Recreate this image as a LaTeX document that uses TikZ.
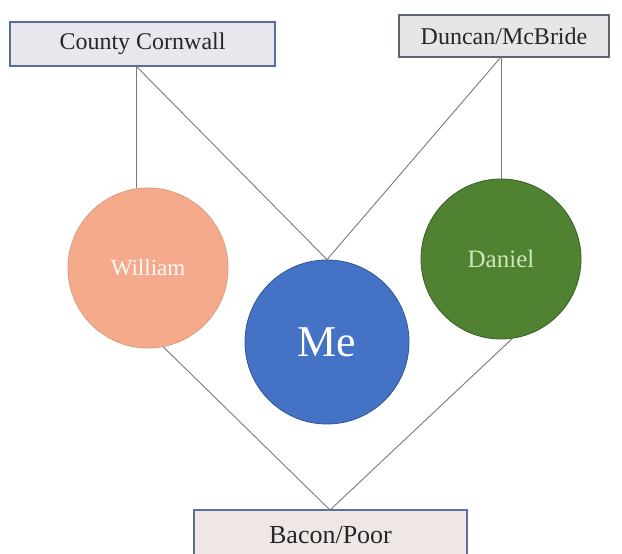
\documentclass[tikz,border=0pt]{standalone}
\usepackage{fontspec}
\setmainfont{Liberation Serif}
\definecolor{cornfill}{HTML}{E9E7EE}
\definecolor{cornedge}{HTML}{5A6E9C}
\definecolor{dunfill}{HTML}{E6E6E8}
\definecolor{dunedge}{HTML}{5F6570}
\definecolor{bacfill}{HTML}{EEE7E6}
\definecolor{bacedge}{HTML}{5E7098}
\definecolor{willfill}{HTML}{F5AA8C}
\definecolor{mefill}{HTML}{4472C4}
\definecolor{meedge}{HTML}{2F5597}
\definecolor{danfill}{HTML}{518232}
\definecolor{danedge}{HTML}{3A5F26}
\definecolor{dantext}{HTML}{CDE8B8}
\definecolor{link}{HTML}{7A7A7A}
\begin{document}
\begin{tikzpicture}[x=1pt,y=-1pt,
  family/.style={draw, line width=1.2pt, inner sep=0pt, text=black!85},
  person/.style={circle, inner sep=0pt, line width=0.8pt},
  link/.style={draw=link, line width=0.9pt}]
\useasboundingbox[fill=white] (0,0) rectangle (622,554);
% family boxes
\node[family, fill=cornfill, draw=cornedge, minimum width=265pt, minimum height=44pt,
      font=\fontsize{24}{28}\selectfont] (corn) at (142.5,44) {County Cornwall};
\node[family, fill=dunfill, draw=dunedge, minimum width=210pt, minimum height=42pt,
      font=\fontsize{24}{28}\selectfont] (dun) at (504,36) {Duncan/McBride};
\node[family, fill=bacfill, draw=bacedge, minimum width=273pt, minimum height=50pt,
      font=\fontsize{26}{30}\selectfont] (bac) at (330.5,535) {Bacon/Poor};
% people
\node[person, fill=willfill, draw=willfill!90!black, minimum size=160pt, text=white!95!willfill,
      font=\fontsize{23}{27}\selectfont] (will) at (148,268) {William};
\node[person, fill=mefill, draw=meedge, minimum size=164pt, text=white,
      font=\fontsize{44}{50}\selectfont] (me) at (327,342) {Me};
\node[person, fill=danfill, draw=danedge, minimum size=160pt, text=dantext,
      font=\fontsize{25}{29}\selectfont] (dan) at (501,259) {Daniel};
% anchor points on the boxes
\coordinate (cornfoot) at (136,66);
\coordinate (dunfoot) at (501,57);
\coordinate (bachead) at (330,510);
% connectors
\path[link] (cornfoot) -- (will.north -| cornfoot);
\path[link] (cornfoot) -- (me.north);
\path[link] (dunfoot) -- (me.north);
\path[link] (dunfoot) -- (dan.north);
\path[link] (will.-79) -- (bachead);
\path[link] (dan.-82) -- (bachead);
\end{tikzpicture}
\end{document}
